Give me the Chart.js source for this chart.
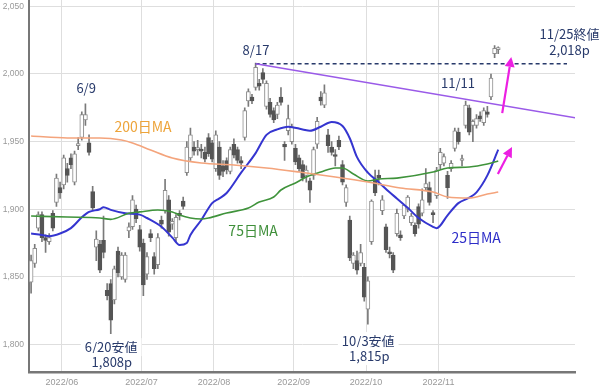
<!DOCTYPE html>
<html><head><meta charset="utf-8">
<script src="https://cdn.jsdelivr.net/npm/chart.js@4.4.1/dist/chart.umd.min.js"></script>
<style>html,body{margin:0;padding:0;background:#fff}#wrap{width:600px;height:388px;position:relative}</style>
</head><body><div id="wrap"><canvas id="c" width="600" height="388"></canvas></div>
<script>
// ---- trading days ----
const dates = [
'05/19','05/20','05/23','05/24','05/25','05/26','05/27','05/30','05/31',
'06/01','06/02','06/03','06/06','06/07','06/08','06/09','06/10','06/13','06/14','06/15','06/16','06/17','06/20','06/21','06/22','06/23','06/24','06/27','06/28','06/29','06/30',
'07/01','07/04','07/05','07/06','07/07','07/08','07/11','07/12','07/13','07/14','07/15','07/19','07/20','07/21','07/22','07/25','07/26','07/27','07/28','07/29',
'08/01','08/02','08/03','08/04','08/05','08/08','08/09','08/10','08/12','08/15','08/16','08/17','08/18','08/19','08/22','08/23','08/24','08/25','08/26','08/29','08/30','08/31',
'09/01','09/02','09/05','09/06','09/07','09/08','09/09','09/12','09/13','09/14','09/15','09/16','09/20','09/21','09/22','09/26','09/27','09/28','09/29','09/30',
'10/03','10/04','10/05','10/06','10/07','10/11','10/12','10/13','10/14','10/17','10/18','10/19','10/20','10/21','10/24','10/25','10/26','10/27','10/28','10/31',
'11/01','11/02','11/04','11/07','11/08','11/09','11/10','11/11','11/14','11/15','11/16','11/17','11/18','11/21','11/22','11/24','11/25'];

const open  = [1846,1860,1886,1896,1879,1876,1897,1905,1916, 1918,1930,1938,1920,1947,1953,1966,1949,1913,1872,1874,1877,1840,1845,1833,1869,1850,1848,1884,1887,1900,1885,
1875,1852,1882,1865,1859,1892,1899,1907,1889,1879,1897,1906,1927,1938,1946,1944,1944,1942,1953,1949,
1930,1946,1932,1936,1928,1948,1944,1936,1953,1980,1983,1990,1993,2001,1976,1979,1973,1970,1983,1948,1958,1950,
1945,1938,1933,1925,1921,1925,1948,1983,1977,1955,1946,1940,1951,1933,1905,1892,1860,1862,1860,1857,
1826,1876,1922,1925,1899,1887,1868,1866,1882,1881,1895,1900,1890,1888,1902,1897,1916,1916,1897,1910,
1933,1934,1925,1930,1945,1957,1936,1962,1975,1962,1962,1969,1964,1972,1983,2015,2018];
const high  = [1866,1874,1898,1898,1881,1882,1899,1926,1920, 1940,1934,1941,1943,1953,1972,1978,1955,1917,1884,1877,1895,1845,1848,1858,1872,1868,1868,1890,1910,1903,1888,
1878,1868,1885,1868,1882,1895,1922,1910,1893,1896,1899,1909,1950,1960,1950,1951,1948,1946,1956,1951,
1958,1950,1936,1938,1946,1952,1946,1939,1975,1989,1985,2008,1996,2004,1995,1982,1975,1979,1990,1950,1977,1963,
1948,1940,1936,1932,1923,1946,1968,1987,1992,1959,1950,1944,1954,1936,1918,1895,1868,1869,1874,1860,
1850,1907,1929,1929,1910,1889,1872,1868,1900,1884,1903,1910,1897,1890,1904,1915,1930,1920,1899,1931,
1945,1941,1928,1936,1960,1960,1940,1980,1977,1966,1970,1972,1975,1976,2000,2021,2020];
const low   = [1838,1857,1884,1876,1868,1874,1884,1902,1908, 1915,1920,1930,1918,1944,1951,1962,1940,1899,1862,1853,1864,1833,1808,1830,1850,1848,1846,1879,1885,1890,1869,
1836,1848,1876,1852,1856,1886,1897,1880,1885,1876,1892,1900,1925,1936,1940,1940,1938,1935,1939,1935,
1928,1922,1924,1926,1926,1938,1934,1930,1951,1976,1978,1988,1988,1993,1974,1968,1964,1967,1977,1936,1955,1948,
1933,1928,1921,1920,1905,1922,1945,1977,1975,1942,1940,1932,1944,1918,1902,1862,1856,1852,1858,1832,
1815,1874,1910,1918,1896,1868,1864,1853,1880,1877,1893,1898,1888,1880,1886,1895,1914,1903,1890,1908,
1930,1932,1908,1928,1943,1948,1932,1960,1955,1950,1960,1965,1962,1968,1981,2012,2015];
const close = [1862,1871,1896,1879,1877,1879,1886,1923,1912, 1938,1925,1933,1941,1948,1970,1970,1942,1901,1878,1855,1868,1836,1818,1856,1853,1866,1866,1887,1907,1893,1872,
1844,1865,1879,1856,1879,1889,1914,1883,1891,1894,1895,1902,1946,1955,1943,1945,1943,1937,1941,1937,
1955,1925,1928,1929,1944,1940,1936,1934,1973,1987,1980,2005,1991,1996,1993,1970,1966,1977,1979,1946,1967,1961,
1935,1930,1923,1929,1914,1944,1965,1980,1986,1947,1942,1939,1946,1920,1916,1864,1866,1855,1868,1835,
1847,1906,1912,1923,1907,1870,1867,1855,1897,1879,1903,1909,1895,1882,1889,1907,1919,1905,1896,1929,
1942,1939,1916,1934,1958,1950,1937,1977,1957,1965,1967,1967,1973,1970,1997,2019,2018];

// ---- moving averages (at given day index) ----
const ma25Idx = [0,3,5,8,11,14,16,19,20,22,26,30,32,36,39,41,43,44,47,50,52,54,58,62,65,68,71,75,77,80,83,86,88,90,93,96,99,101,104,107,111,112,115,118,121,123,126,129];
const ma25    = [1882,1881,1880,1882,1886,1894,1898,1900,1901.5,1899.5,1897,1896,1893.5,1887,1879,1873.5,1875,1881,1892,1904.5,1908,1912,1927,1941.5,1955,1959,1961,1959,1958,1961,1964.5,1961.5,1952.5,1938.5,1927,1920,1912.5,1908,1901,1893.5,1887,1886,1895.5,1904.5,1908.5,1912.5,1925,1944];
const ma75Idx = [0,10,19,22,27,30,35,39,41,44,47,49,54,60,63,67,69,73,76,80,84,86,89,93,96,101,111,115,121,126,129];
const ma75    = [1895,1894.2,1893.5,1892.5,1897,1898,1899.4,1898,1895.7,1893.5,1892.8,1893.5,1897.2,1900.9,1905.3,1909,1914.2,1919.4,1923.8,1927.5,1930.5,1930.5,1926,1920.9,1922.3,1923,1927.5,1930.5,1931.2,1933.4,1935.7];
const ma200Idx = [0,10,19,25,28,33,39,47,56,65,74,84,93,102,111,115,121,126,129];
const ma200    = [1954.1,1952.7,1952.7,1951.2,1949,1943.8,1937.9,1934.2,1932.7,1930.5,1927.5,1923.8,1920.1,1915.7,1912.7,1909,1908.3,1911.2,1912.7];

// ---- annotation lines (day index, value) ----
const resistIdx = [62, 148];     const resistVal = [2007.5, 2007.5];
const trendIdx  = [62, 150.5];   const trendVal  = [2007.5, 1967.5];
const arrowFromIdx = [130.1, 128.9]; const arrowFromVal = [1971, 1926];
const arrowToIdx   = [132.6, 132.8]; const arrowToVal   = [2012.6, 1946];

// ---- ticks ----
const yTicks = [1800,1850,1900,1950,2000,2050];
const monthLabels = ['2022/06','2022/07','2022/08','2022/09','2022/10','2022/11'];

// ---- text labels ----
const noteText = ['6/9','8/17','11/11','11/25終値','2,018p','6/20安値','1,808p','10/3安値','1,815p','200日MA','75日MA','25日MA'];
const noteIdx  = [15.2,62.1,117.9,148.7,148.7,22.1,22.3,93.1,93.4,30.9,61.3,122.9];
const noteVal  = [1989.6,2017.8,1993.3,2029.6,2017.8,1798,1787,1802.5,1791.4,1960.8,1883.9,1878.7];

const NAVY='#283a6b', C25='#3535d0', C75='#3f933b', C200='#f4a47c';
const noteColor = [NAVY,NAVY,NAVY,NAVY,NAVY,NAVY,NAVY,NAVY,NAVY,'#eda43a','#3f8f3a','#2e2ec8'];
const noteSize  = [13,13,13,13,13,13,13,13,13,14,14,14];
const noteBg    = [0,0,0,0,0,1,1,1,1,0,0,0];

// month boundary tick positions from dates
const monthBounds = [];
for (let i=1;i<dates.length;i++) if (dates[i].slice(0,2)!==dates[i-1].slice(0,2)) monthBounds.push(i-0.5);

const idx = dates.map((d,i)=>i);
const up = idx.map(i=>close[i]>=open[i]);
const wickData = idx.map(i=>({x:i,y:[low[i],high[i]]}));
const bodyData = idx.map(i=>({x:i,y:[Math.min(open[i],close[i]),Math.max(open[i],close[i])]}));
const pts = (ix,v)=>ix.map((x,k)=>({x:x,y:v[k]}));

const annot = {
  id:'annot',
  afterDatasetsDraw(chart){
    const {ctx, scales:{x,y}} = chart;
    ctx.save();
    for (let k=0;k<arrowFromIdx.length;k++){
      const x1=x.getPixelForValue(arrowFromIdx[k]), y1=y.getPixelForValue(arrowFromVal[k]);
      const x2=x.getPixelForValue(arrowToIdx[k]), y2=y.getPixelForValue(arrowToVal[k]);
      const ang=Math.atan2(y2-y1,x2-x1), L=10, W=5;
      const bx=x2-L*Math.cos(ang), by=y2-L*Math.sin(ang);
      ctx.strokeStyle='#ec1fe2'; ctx.fillStyle='#ec1fe2'; ctx.lineWidth=2.2;
      ctx.beginPath(); ctx.moveTo(x1,y1); ctx.lineTo(bx,by); ctx.stroke();
      ctx.beginPath(); ctx.moveTo(x2,y2);
      ctx.lineTo(bx+W*Math.sin(ang), by-W*Math.cos(ang));
      ctx.lineTo(bx-W*Math.sin(ang), by+W*Math.cos(ang));
      ctx.closePath(); ctx.fill();
    }
    ctx.textAlign='center'; ctx.textBaseline='middle';
    for (let k=0;k<noteText.length;k++){
      const px=x.getPixelForValue(noteIdx[k]), py=y.getPixelForValue(noteVal[k]);
      ctx.font = noteSize[k]+'px "Noto Sans CJK JP", "Noto Sans", sans-serif';
      if (noteBg[k]){
        const w=ctx.measureText(noteText[k]).width+8;
        ctx.fillStyle='#fff'; ctx.fillRect(px-w/2, py-9, w, 18);
      }
      ctx.fillStyle=noteColor[k];
      ctx.fillText(noteText[k], px, py);
    }
    ctx.restore();
  }
};

new Chart(document.getElementById('c'), {
  type:'bar',
  data:{ datasets:[
    {type:'bar', data:wickData, barThickness:1, grouped:false, backgroundColor:'#7a7a7a', borderWidth:0, order:4},
    {type:'bar', data:bodyData, barThickness:4, grouped:false, minBarLength:2, borderSkipped:false,
      backgroundColor:c=>up[c.dataIndex]?'#ffffff':'#555555',
      borderColor:c=>up[c.dataIndex]?'#8c8c8c':'#555555', borderWidth:1, order:3},
    {type:'line', data:pts(ma200Idx,ma200), borderColor:C200, borderWidth:1.6, pointRadius:0, cubicInterpolationMode:'monotone', order:2},
    {type:'line', data:pts(ma75Idx,ma75), borderColor:C75, borderWidth:1.6, pointRadius:0, cubicInterpolationMode:'monotone', order:2},
    {type:'line', data:pts(ma25Idx,ma25), borderColor:C25, borderWidth:2, pointRadius:0, cubicInterpolationMode:'monotone', order:2},
    {type:'line', data:pts(resistIdx,resistVal), borderColor:NAVY, borderWidth:1.5, borderDash:[4,3], pointRadius:0, order:1},
    {type:'line', data:pts(trendIdx,trendVal), borderColor:'#9a5ae8', borderWidth:1.5, pointRadius:0, order:0}
  ]},
  options:{
    responsive:false, animation:false, devicePixelRatio:1, events:[],
    layout:{padding:{top:0,right:25,bottom:0,left:0}},
    plugins:{legend:{display:false}, tooltip:{enabled:false}},
    scales:{
      x:{type:'linear', min:-0.58, max:150.2, offset:false,
        grid:{color:'#dedede', lineWidth:1, drawTicks:false, offset:false},
        border:{color:'#777', width:2.5},
        afterBuildTicks:s=>{s.ticks=monthBounds.map(v=>({value:v}));},
        afterFit:s=>{s.height=15.3; s.paddingLeft=0; s.paddingRight=0;},
        ticks:{autoSkip:false, maxRotation:0, color:'#999', padding:4,
          font:{family:'"Liberation Sans", Arial, sans-serif', size:9},
          callback:(v,i)=>monthLabels[i]}},
      y:{type:'linear', position:'left', min:1779.1, max:2054.7,
        grid:{color:'#dedede', lineWidth:1, drawTicks:false},
        border:{color:'#777', width:2},
        afterBuildTicks:s=>{s.ticks=yTicks.map(v=>({value:v}));},
        afterFit:s=>{s.width=29; s.paddingTop=0; s.paddingBottom=0;},
        ticks:{color:'#999', padding:5,
          font:{family:'"Liberation Sans", Arial, sans-serif', size:8.5},
          callback:v=>v.toLocaleString('en-US')}}
    }
  },
  plugins:[annot]
});
</script></body></html>
